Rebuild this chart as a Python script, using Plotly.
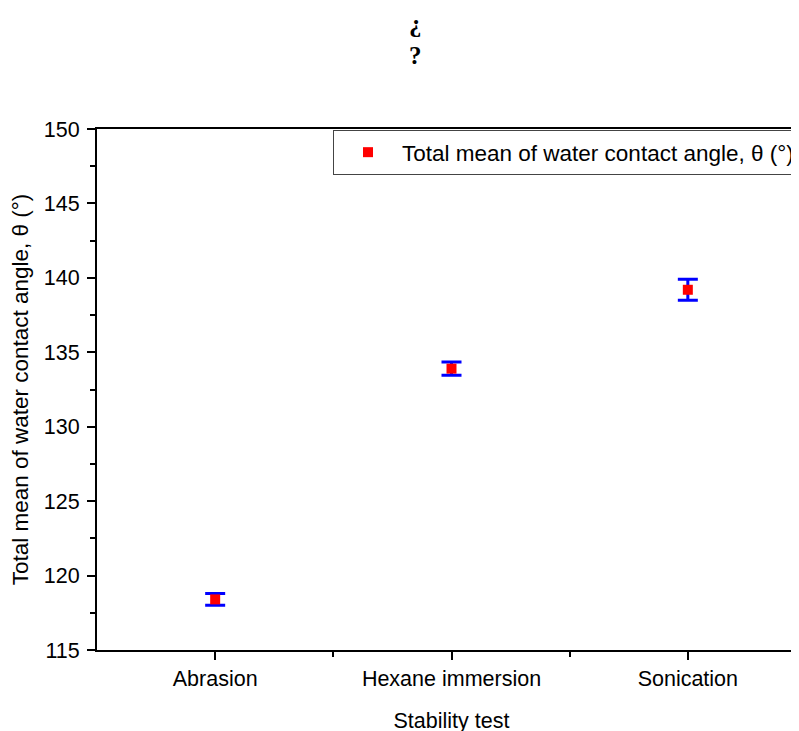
import plotly.graph_objects as go

categories = ["Abrasion", "Hexane immersion", "Sonication"]
mean_angle = [118.4, 133.9, 139.2]
error_angle = [0.4, 0.45, 0.7]
series_name = "Total mean of water contact angle, θ (°)"
y_ticks = [115, 120, 125, 130, 135, 140, 145, 150]

fig = go.Figure()
fig.add_trace(go.Scatter(
    x=[0, 1, 2], y=mean_angle, mode="markers", name=series_name,
    marker=dict(symbol="square", size=10, color="#ff0000"),
    error_y=dict(type="data", array=error_angle, visible=True,
                 color="#0000ff", thickness=3, width=10),
))

font = "Liberation Sans, Arial, sans-serif"
L, R, T, B = 89, 1, 121, 89
W, H = 799, 731
pw, ph = W - L - R, H - T - B

fig.update_layout(
    width=W, height=H,
    margin=dict(l=L, r=R, t=T, b=B),
    paper_bgcolor="white", plot_bgcolor="white",
    showlegend=True,
    legend=dict(x=(792 - L) / pw, y=0.998, xanchor="right", yanchor="top",
                bordercolor="#444444", borderwidth=1, bgcolor="white",
                font=dict(family=font, size=22.5, color="black"),
                itemwidth=58),
    xaxis=dict(
        range=[-0.5, 2.5], tickmode="array", tickvals=[0, 1, 2],
        ticktext=categories, showgrid=False, zeroline=False,
        showline=True, linecolor="black", linewidth=2, mirror=True,
        ticks="outside", ticklen=8, tickwidth=2, tickcolor="black",
        minor=dict(tickvals=[0.5, 1.5], ticks="outside", ticklen=5,
                   tickwidth=2, tickcolor="black"),
        tickfont=dict(family=font, size=21.5, color="black"),
        title=dict(text="Stability test", standoff=23,
                   font=dict(family=font, size=21.5, color="black")),
    ),
    yaxis=dict(
        range=[115, 150], tickmode="array", tickvals=y_ticks,
        showgrid=False, zeroline=False,
        showline=True, linecolor="black", linewidth=2, mirror=False,
        ticks="outside", ticklen=8, tickwidth=2, tickcolor="black",
        ticklabelstandoff=3,
        minor=dict(dtick=2.5, ticks="outside", ticklen=5, tickwidth=2,
                   tickcolor="black"),
        tickfont=dict(family=font, size=21.5, color="black"),
        title=dict(text=series_name, standoff=12,
                   font=dict(family=font, size=22.5, color="black")),
    ),
)

for glyph, ypx in [("¿", 16), ("?", 47)]:
    fig.add_annotation(
        text="<b>" + glyph + "</b>", xref="paper", yref="paper",
        x=(407 - L) / pw, y=1 + (T - ypx) / ph,
        xanchor="center", yanchor="middle", showarrow=False,
        font=dict(family="Liberation Serif, serif", size=25, color="black"),
    )

fig.write_html("out.html")
